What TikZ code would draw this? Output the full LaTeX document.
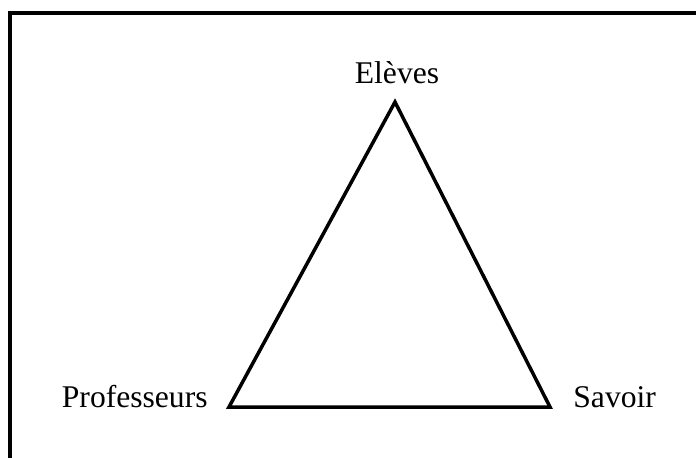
\documentclass[tikz,border=0pt]{standalone}
\usepackage{fontspec}
\setmainfont{Liberation Serif}

\begin{document}
\begin{tikzpicture}[
      x=0.5pt, y=-0.5pt,
      frame/.style={line width=1.75pt, draw=black},
      side/.style={line width=1.75pt, draw=black, line join=miter},
      pole/.style={font=\fontsize{15.8}{18}\selectfont, inner sep=0pt},
    ]
    \useasboundingbox (0,0) rectangle (696,457);

    % -------------------------------------------------------
    %  Frame (only left and top edges are visible)
    % -------------------------------------------------------
    \draw[frame] (10,460) -- (10,13) -- (700,13);

    % -------------------------------------------------------
    %  Triangle vertices
    % -------------------------------------------------------
    \coordinate (eleves) at (395,102);
    \coordinate (prof) at (229,407);
    \coordinate (savoir) at (550,407);

    \draw[side] (eleves) -- (savoir) -- (prof) -- cycle;

    % Labels
    \node[pole, anchor=base] (lbleleves) at (397,83) {Elèves};
    \node[pole, anchor=base east] (lblprof) at (208,407) {Professeurs};
    \node[pole, anchor=base west] (lblsavoir) at (573,407) {Savoir};

  \end{tikzpicture}
\end{document}
